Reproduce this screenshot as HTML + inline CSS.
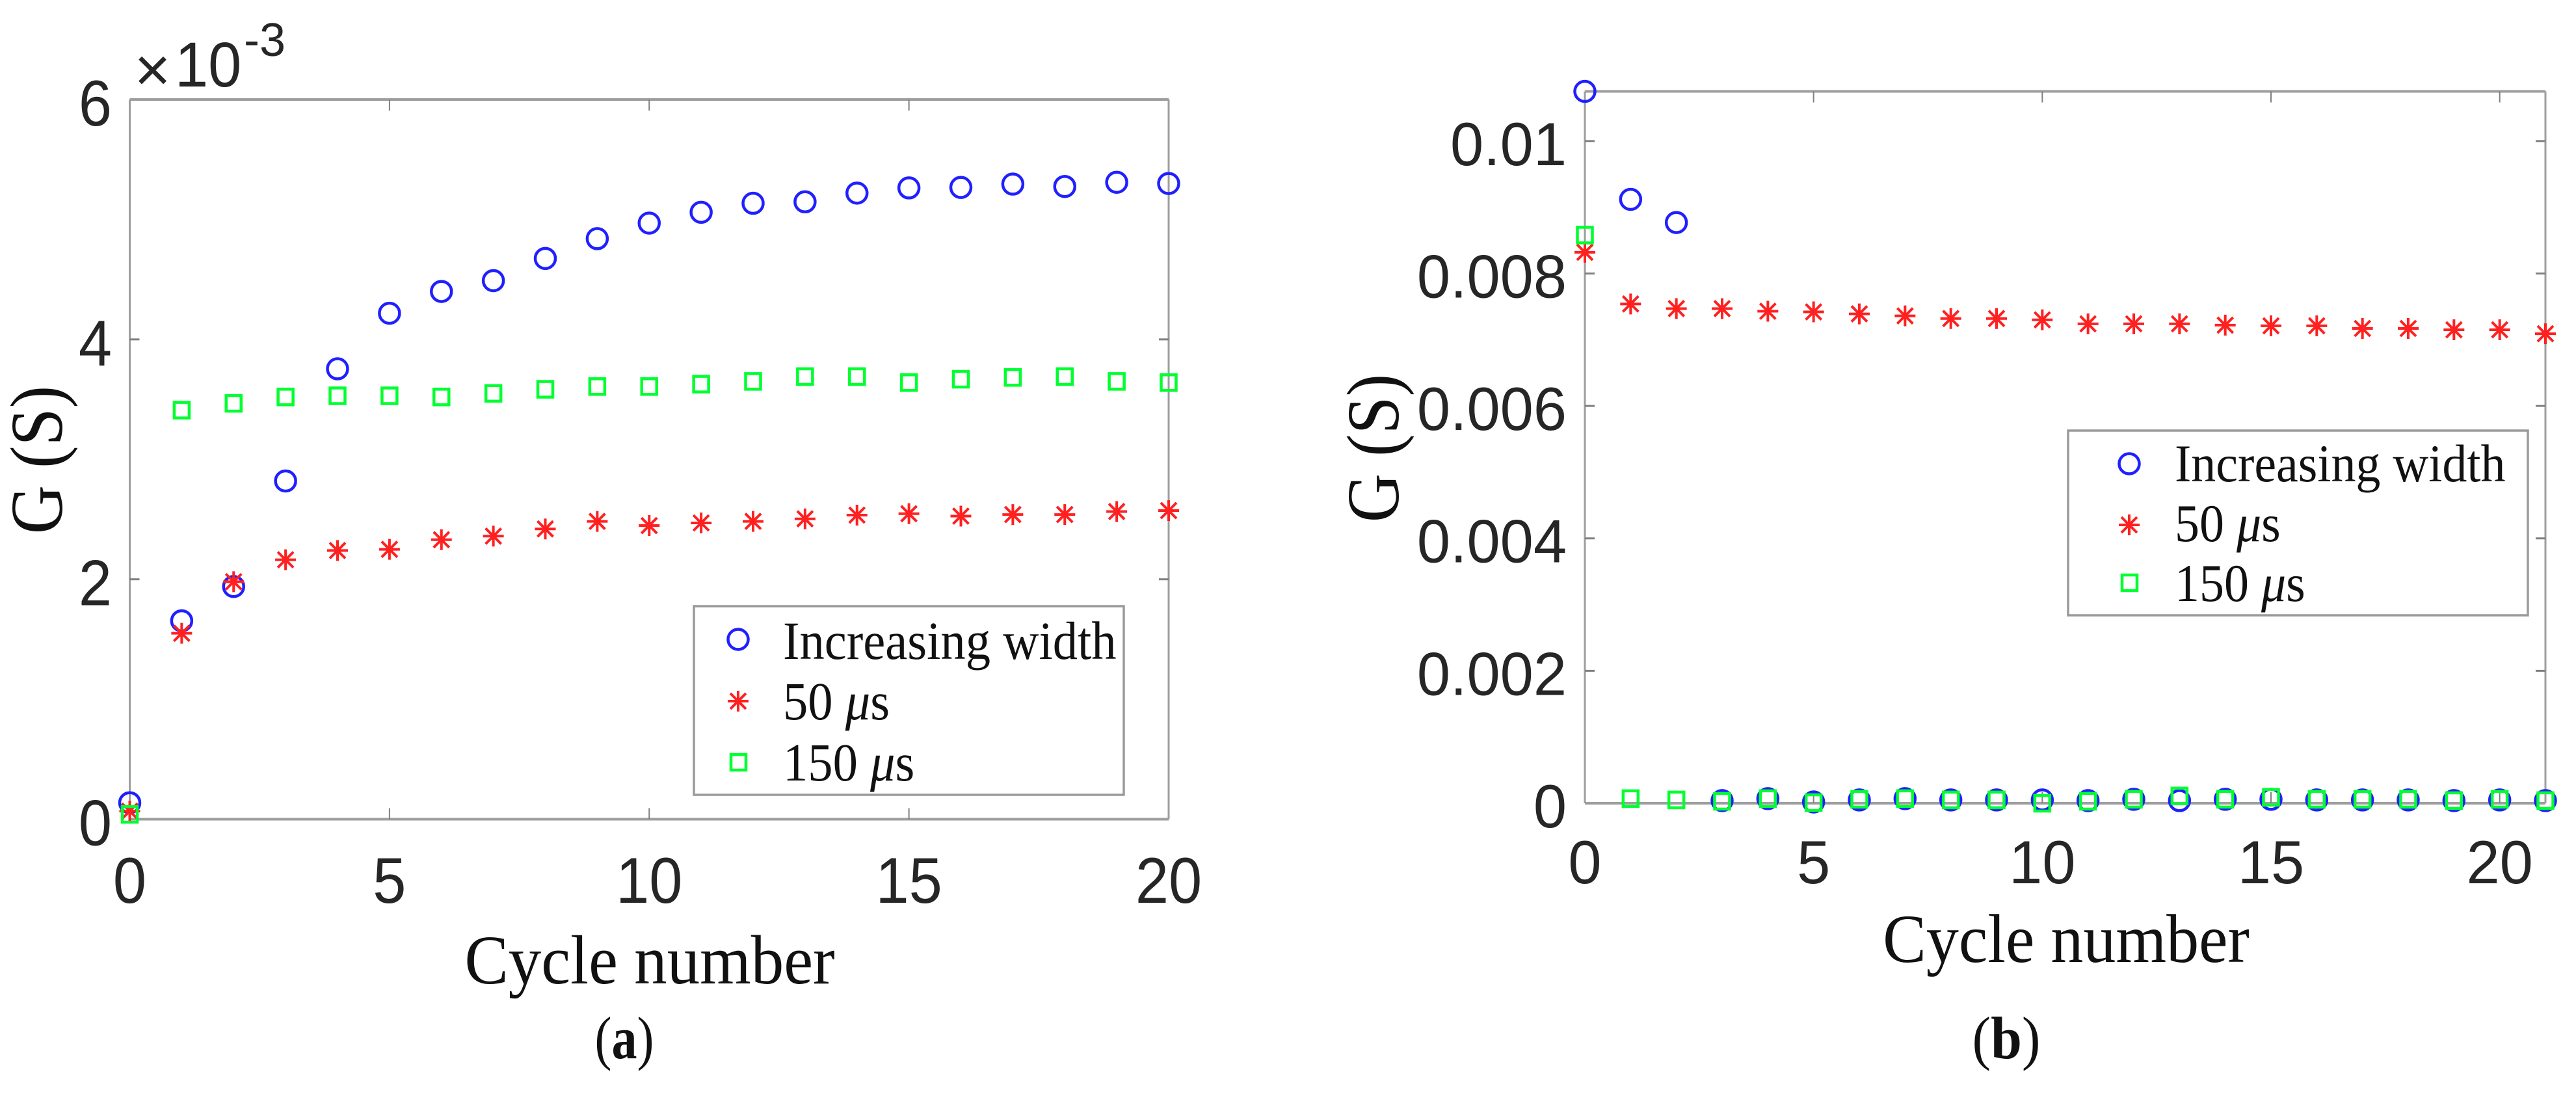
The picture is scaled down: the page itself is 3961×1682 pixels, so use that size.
<!DOCTYPE html>
<html lang="en">
<head>
<meta charset="utf-8">
<title>Conductance vs cycle number</title>
<style>
html,body{margin:0;padding:0;background:#fff;}
svg{display:block;}
.serif{font-family:"Liberation Serif",serif;fill:#111;}
.sans{font-family:"Liberation Sans",sans-serif;fill:#262626;}
</style>
</head>
<body>
<svg id="figure" xmlns="http://www.w3.org/2000/svg" width="3961" height="1682" viewBox="0 0 3961 1682">
  <rect x="0" y="0" width="3961" height="1682" fill="#ffffff"/>

  <g id="panel-a"></g>
  <g id="panel-b"></g>

  <!-- Panel a text -->
  <text class="sans" x="206.5" y="140" font-size="96">×</text>
  <text class="sans" font-size="92" transform="translate(269,133) scale(1,1.06)">10</text>
  <text class="sans" x="375" y="86" font-size="72">-3</text>
  <text class="serif" font-size="104" text-anchor="middle" transform="translate(95,707) rotate(-90) scale(1,1.1)" fill="#262626">G (S)</text>
  <text class="serif" font-size="101" text-anchor="middle" transform="translate(999,1512) scale(1,1.06)">Cycle number</text>
  <text class="serif" font-size="78" text-anchor="middle" transform="translate(960,1627) scale(1,1.18)">(<tspan font-weight="bold">a</tspan>)</text>

  <!-- Panel a legend -->
  <g>
    <rect x="1067" y="932" width="661" height="290" fill="#fff" stroke="#9a9a9a" stroke-width="3.5"/>
    <circle cx="1135" cy="983" r="15.5" fill="none" stroke="#2020ff" stroke-width="4.5"/>
    <text class="serif" font-size="76.6" transform="translate(1204,1013) scale(1,1.08)">Increasing width</text>
    <g stroke="#ff2020" stroke-width="4">
      <line x1="1135" y1="1062" x2="1135" y2="1094"/>
      <line x1="1119" y1="1078" x2="1151" y2="1078"/>
      <line x1="1123" y1="1066" x2="1147" y2="1090"/>
      <line x1="1123" y1="1090" x2="1147" y2="1066"/>
    </g>
    <text class="serif" font-size="76.6" transform="translate(1204,1106) scale(1,1.08)">50 <tspan font-style="italic">μ</tspan>s</text>
    <rect x="1124" y="1160" width="23" height="24" fill="none" stroke="#00ff30" stroke-width="4.5"/>
    <text class="serif" font-size="76.6" transform="translate(1204,1200) scale(1,1.08)">150 <tspan font-style="italic">μ</tspan>s</text>
  </g>

  <!-- Panel b text -->
  <text class="serif" font-size="104" text-anchor="middle" transform="translate(2150,689) rotate(-90) scale(1,1.1)" fill="#262626">G (S)</text>
  <text class="serif" font-size="100" text-anchor="middle" transform="translate(3177,1479) scale(1,1.06)">Cycle number</text>
  <text class="serif" font-size="86" text-anchor="middle" transform="translate(3085,1627) scale(1,1.07)">(<tspan font-weight="bold">b</tspan>)</text>

  <!-- Panel b legend -->
  <g>
    <rect x="3180" y="662" width="707" height="284" fill="#fff" stroke="#9a9a9a" stroke-width="3.5"/>
    <circle cx="3274" cy="713" r="15.5" fill="none" stroke="#2020ff" stroke-width="4.5"/>
    <text class="serif" font-size="76" transform="translate(3344,740) scale(1,1.08)">Increasing width</text>
    <g stroke="#ff2020" stroke-width="4">
      <line x1="3274" y1="791" x2="3274" y2="823"/>
      <line x1="3258" y1="807" x2="3290" y2="807"/>
      <line x1="3262" y1="795" x2="3286" y2="819"/>
      <line x1="3262" y1="819" x2="3286" y2="795"/>
    </g>
    <text class="serif" font-size="76" transform="translate(3344,832) scale(1,1.08)">50 <tspan font-style="italic">μ</tspan>s</text>
    <rect x="3263" y="884" width="23" height="24" fill="none" stroke="#00ff30" stroke-width="4.5"/>
    <text class="serif" font-size="76" transform="translate(3344,924) scale(1,1.08)">150 <tspan font-style="italic">μ</tspan>s</text>
  </g>
</svg>

<script>
// ---- Panel (a) data ----
var xTicksA = [0, 5, 10, 15, 20];
var xTickLabelsA = ['0', '5', '10', '15', '20'];
var yTicksA = [0, 2, 4, 6];
var yTickLabelsA = ['0', '2', '4', '6'];
var cyclesA = [0,1,2,3,4,5,6,7,8,9,10,11,12,13,14,15,16,17,18,19,20];
var increasingA = [0.137,1.654,1.94,2.82,3.755,4.218,4.40,4.49,4.675,4.84,4.97,5.06,5.135,5.147,5.22,5.263,5.267,5.295,5.275,5.31,5.30];
var fiftyA = [0.067,1.55,1.98,2.163,2.24,2.25,2.33,2.36,2.42,2.483,2.448,2.47,2.483,2.504,2.535,2.547,2.527,2.54,2.54,2.565,2.573];
var oneFiftyA = [0.04,3.41,3.467,3.52,3.53,3.53,3.52,3.55,3.584,3.607,3.607,3.627,3.65,3.69,3.69,3.64,3.668,3.683,3.69,3.65,3.64];

// ---- Panel (b) data ----
var xTicksB = [0, 5, 10, 15, 20];
var xTickLabelsB = ['0', '5', '10', '15', '20'];
var yTicksB = [0, 0.002, 0.004, 0.006, 0.008, 0.01];
var yTickLabelsB = ['0', '0.002', '0.004', '0.006', '0.008', '0.01'];
var cyclesB = [0,1,2,3,4,5,6,7,8,9,10,11,12,13,14,15,16,17,18,19,20,21];
var increasingB = [0.01075,0.00912,0.00877,0.00004,0.00007,0.00002,0.00005,0.00007,0.00005,0.00005,0.00005,0.00004,0.00006,0.00004,0.00006,0.00006,0.00005,0.00005,0.00005,0.00004,0.00005,0.00004];
var fiftyB = [0.00832,0.00754,0.00747,0.00747,0.00743,0.00742,0.00739,0.00736,0.00732,0.00732,0.0073,0.00724,0.00724,0.00724,0.00722,0.00721,0.00721,0.00717,0.00717,0.00715,0.00715,0.00709];
var oneFiftyB = [0.00858,0.00007,0.00005,0.00003,0.00007,0.00001,0.00006,0.00007,0.00005,0.00005,0,0.00003,0.00006,0.00011,0.00006,0.00009,0.00006,0.00006,0.00006,0.00004,0.00006,0.00004];

var NS = 'http://www.w3.org/2000/svg';

function make(parent, tag, attrs) {
  var el = document.createElementNS(NS, tag);
  for (var k in attrs) { el.setAttribute(k, attrs[k]); }
  parent.appendChild(el);
  return el;
}

function drawCircle(g, cx, cy) {
  var el = make(g, 'circle', { cx: cx, cy: cy, r: 15.5, fill: 'none', stroke: '#2020ff', 'stroke-width': 4.5 });
  
  
}

function drawStar(g, cx, cy) {
  var star = make(g, 'path', {
    d: 'M' + cx + ' ' + (cy - 16) + 'V' + (cy + 16) +
       'M' + (cx - 16) + ' ' + cy + 'H' + (cx + 16) +
       'M' + (cx - 12) + ' ' + (cy - 12) + 'L' + (cx + 12) + ' ' + (cy + 12) +
       'M' + (cx - 12) + ' ' + (cy + 12) + 'L' + (cx + 12) + ' ' + (cy - 12),
    fill: 'none', stroke: '#ff2020', 'stroke-width': 4
  });
  
  
}

function drawSquare(g, cx, cy) {
  var el = make(g, 'rect', { x: cx - 11.5, y: cy - 12, width: 23, height: 24, fill: 'none', stroke: '#00ff30', 'stroke-width': 4.5 });
  
  
}

function drawPanel(target, p) {
  var scaleX = function (v) { return p.left + (v - p.xMin) / (p.xMax - p.xMin) * (p.right - p.left); };
  var scaleY = function (v) { return p.bottom - (v - p.yMin) / (p.yMax - p.yMin) * (p.bottom - p.top); };
  var axisColor = '#9e9e9e';

  // frame
  var frame = make(target, 'g', { stroke: axisColor, fill: 'none' });
  
  
  make(frame, 'line', { x1: p.left, y1: p.top, x2: p.left, y2: p.bottom, 'stroke-width': 3 });
  make(frame, 'line', { x1: p.right, y1: p.top, x2: p.right, y2: p.bottom, 'stroke-width': 3 });
  make(frame, 'line', { x1: p.left, y1: p.top, x2: p.right, y2: p.top, 'stroke-width': 4 });
  make(frame, 'line', { x1: p.left, y1: p.bottom, x2: p.right, y2: p.bottom, 'stroke-width': 4 });

  // x ticks
  p.xTicks.forEach(function (v, i) {
    var x = scaleX(v);
    var tg = make(target, 'g', { stroke: '#808080', 'stroke-width': 2 });
    
    
    if (v !== p.xMin && v !== p.xMax) {
      make(tg, 'line', { x1: x, y1: p.bottom, x2: x, y2: p.bottom - 17 });
      make(tg, 'line', { x1: x, y1: p.top, x2: x, y2: p.top + 17 });
    }
    var label = make(target, 'text', {
      transform: 'translate(' + x + ',' + p.xLabelY + ') scale(1,' + p.tickStretch + ')',
      'text-anchor': 'middle', 'font-size': p.tickFont, 'class': 'sans'
    });
    label.textContent = p.xLabels[i];
    
    
  });

  // y ticks
  p.yTicks.forEach(function (v, i) {
    var y = scaleY(v);
    var tg = make(target, 'g', { stroke: '#808080', 'stroke-width': 3 });
    
    
    if (v !== p.yMin && v !== p.yMax) {
      make(tg, 'line', { x1: p.left, y1: y, x2: p.left + 15, y2: y });
      make(tg, 'line', { x1: p.right, y1: y, x2: p.right - 15, y2: y });
    }
    var label = make(target, 'text', {
      transform: 'translate(' + p.yLabelX + ',' + (y + p.yLabelOffset) + ') scale(1,' + p.tickStretch + ')',
      'text-anchor': 'end', 'font-size': p.tickFont, 'class': 'sans'
    });
    label.textContent = p.yLabels[i];
    
    
  });

  // series
  var blue = make(target, 'g', {});
  
  
  var red = make(target, 'g', {});
  
  
  var green = make(target, 'g', {});
  
  

  p.cycles.forEach(function (c, i) {
    drawCircle(blue, scaleX(c), scaleY(p.increasing[i]));
    drawStar(red, scaleX(c), scaleY(p.fifty[i]));
    drawSquare(green, scaleX(c), scaleY(p.oneFifty[i]));
  });
}

drawPanel(document.getElementById('panel-a'), {
  left: 199.5, right: 1797, top: 153, bottom: 1259.5,
  xMin: 0, xMax: 20, yMin: 0, yMax: 6,
  xTicks: xTicksA, xLabels: xTickLabelsA,
  yTicks: yTicksA, yLabels: yTickLabelsA,
  cycles: cyclesA, increasing: increasingA, fifty: fiftyA, oneFifty: oneFiftyA,
  tickFont: 92, tickStretch: 1.08, xLabelY: 1388, yLabelX: 172, yLabelOffset: 40
});

drawPanel(document.getElementById('panel-b'), {
  left: 2437, right: 3914, top: 140.5, bottom: 1235,
  xMin: 0, xMax: 21, yMin: 0, yMax: 0.01075,
  xTicks: xTicksB, xLabels: xTickLabelsB,
  yTicks: yTicksB, yLabels: yTickLabelsB,
  cycles: cyclesB, increasing: increasingB, fifty: fiftyB, oneFifty: oneFiftyB,
  tickFont: 92, tickStretch: 1.02, xLabelY: 1358, yLabelX: 2409, yLabelOffset: 37
});
</script>
</body>
</html>
